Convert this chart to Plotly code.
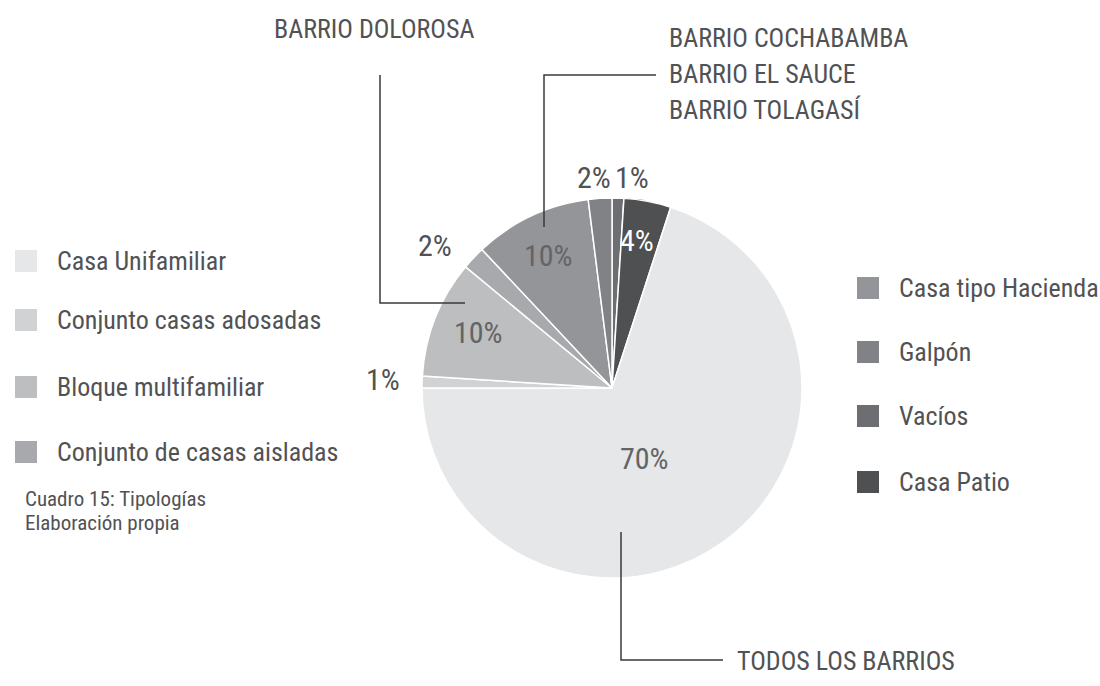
import plotly.graph_objects as go

W, H = 1100, 686

# Tipologías de vivienda (porcentaje), en el orden en que se dibujan desde las 12 en sentido horario
labels = ["Vacíos", "Casa Patio", "Casa Unifamiliar", "Conjunto casas adosadas",
          "Bloque multifamiliar", "Conjunto de casas aisladas", "Casa tipo Hacienda", "Galpón"]
values = [1, 4, 70, 1, 10, 2, 10, 2]

colors = {
    "Casa Unifamiliar": "#e6e7e8",
    "Conjunto casas adosadas": "#d1d2d4",
    "Bloque multifamiliar": "#bcbec0",
    "Conjunto de casas aisladas": "#a7a9ac",
    "Casa tipo Hacienda": "#939598",
    "Galpón": "#808285",
    "Vacíos": "#6d6e71",
    "Casa Patio": "#4f5052",
}

legend_left = ["Casa Unifamiliar", "Conjunto casas adosadas", "Bloque multifamiliar",
               "Conjunto de casas aisladas"]
legend_right = ["Casa tipo Hacienda", "Galpón", "Vacíos", "Casa Patio"]

barrio_dolorosa = ["BARRIO DOLOROSA"]
barrio_grupo = ["BARRIO COCHABAMBA", "BARRIO EL SAUCE", "BARRIO TOLAGASÍ"]
barrio_todos = ["TODOS LOS BARRIOS"]

fuente = ["Cuadro 15: Tipologías", "Elaboración propia"]

FONT = "Roboto Condensed, Liberation Sans Narrow, Lato, sans-serif"
TXT = "#515254"


def X(px):
    return px / W


def Y(py):
    return 1 - py / H


fig = go.Figure()

cx, cy, r = 612, 388, 190
fig.add_trace(go.Pie(
    labels=labels, values=values, sort=False, direction="clockwise", rotation=0,
    marker=dict(colors=[colors[l] for l in labels], line=dict(color="white", width=1.5)),
    textinfo="none", hoverinfo="label+percent", showlegend=False,
    domain=dict(x=[X(cx - r), X(cx + r)], y=[Y(cy + r), Y(cy - r)]),
))

annotations = []


def text(x, y, s, size, color=TXT, anchor="left"):
    annotations.append(dict(x=X(x), y=Y(y), xref="paper", yref="paper", text=s,
                            showarrow=False, xanchor=anchor, yanchor="middle", align="left",
                            font=dict(family=FONT, size=size, color=color)))


# Etiquetas de porcentaje
pct_pos = {
    "Casa Unifamiliar": (644, 458, "#636467"),
    "Bloque multifamiliar": (478, 332, "#636467"),
    "Casa tipo Hacienda": (548, 256, "#636467"),
    "Casa Patio": (637, 240, "white"),
    "Conjunto de casas aisladas": (435, 245, TXT),
    "Conjunto casas adosadas": (383, 379, TXT),
    "Galpón": (594, 177, TXT),
    "Vacíos": (632, 177, TXT),
}
for lab, val in zip(labels, values):
    x, y, c = pct_pos[lab]
    text(x, y, f"{val}%", 30, c, anchor="center")

# Leyendas
shapes = []
sq = 22


def add_legend(items, x0, ys):
    for lab, y in zip(items, ys):
        shapes.append(dict(type="rect", xref="paper", yref="paper",
                           x0=X(x0), x1=X(x0 + sq), y0=Y(y + sq / 2), y1=Y(y - sq / 2),
                           fillcolor=colors[lab], line=dict(width=0)))
        text(x0 + 40, y, lab, 26)


add_legend(legend_left, 15, [261, 320, 387, 452])
add_legend(legend_right, 857, [288, 352, 416, 482])

for s, y in zip(fuente, [499, 523]):
    text(23, y, s, 21)

# Grupos de barrios con líneas guía
for s, y in zip(barrio_dolorosa, [29]):
    text(272, y, s, 26)
for s, y in zip(barrio_grupo, [38, 74, 110]):
    text(667, y, s, 26)
for s, y in zip(barrio_todos, [661]):
    text(735, y, s, 26)

annotations.append(dict(x=X(27), y=Y(682), xref="paper", yref="paper",
                        text="<b>TENDENCIAS POR BARRIO</b>",
                        showarrow=False, xanchor="left", yanchor="top",
                        font=dict(family=FONT, size=27, color=TXT)))


def polyline(pts):
    path = "M " + " L ".join(f"{X(a)},{Y(b)}" for a, b in pts)
    shapes.append(dict(type="path", xref="paper", yref="paper", path=path,
                       line=dict(color="#3a3a3c", width=1.5)))


polyline([(380, 75), (380, 303), (465, 303)])
polyline([(544, 227), (544, 75), (656, 75)])
polyline([(621, 532), (621, 660), (723, 660)])

fig.update_layout(width=W, height=H, margin=dict(l=0, r=0, t=0, b=0),
                  paper_bgcolor="white", plot_bgcolor="white",
                  annotations=annotations, shapes=shapes)

fig.write_html("out.html")
